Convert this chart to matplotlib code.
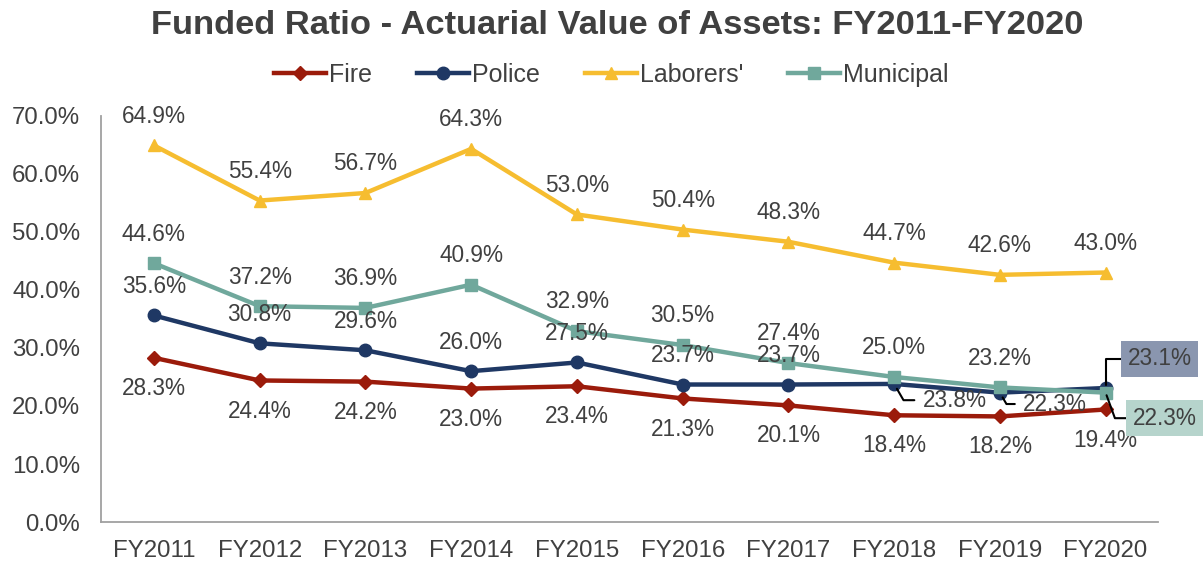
import matplotlib
matplotlib.use("Agg")
import matplotlib.pyplot as plt

years = ["FY2011", "FY2012", "FY2013", "FY2014", "FY2015",
         "FY2016", "FY2017", "FY2018", "FY2019", "FY2020"]
fire = [28.3, 24.4, 24.2, 23.0, 23.4, 21.3, 20.1, 18.4, 18.2, 19.4]
police = [35.6, 30.8, 29.6, 26.0, 27.5, 23.7, 23.7, 23.8, 22.3, 23.1]
laborers = [64.9, 55.4, 56.7, 64.3, 53.0, 50.4, 48.3, 44.7, 42.6, 43.0]
municipal = [44.6, 37.2, 36.9, 40.9, 32.9, 30.5, 27.4, 25.0, 23.2, 22.3]
yticks = [0, 10, 20, 30, 40, 50, 60, 70]


def main():
    plt.rcParams["font.family"] = ["Liberation Sans", "DejaVu Sans"]
    fig = plt.figure(figsize=(12.03, 5.65), dpi=100)
    ax = fig.add_axes([0.084, 0.076, 0.879, 0.719])
    x = list(range(len(years)))
    txt = "#404040"

    # name, values, colour, marker, size, label side
    series = [
        ("Fire", fire, "#9B1B0B", "D", 7.5, "below"),
        ("Police", police, "#1F3864", "o", 9, "above"),
        ("Laborers'", laborers, "#F6BD30", "^", 9, "above"),
        ("Municipal", municipal, "#70A89C", "s", 8.5, "above"),
    ]
    for name, vals, col, mk, ms, side in series:
        ax.plot(x, [v / 100 for v in vals], color=col, marker=mk,
                markersize=ms, linewidth=3.2, label=name, zorder=3)

    for name, vals, col, mk, ms, side in series:
        for i, v in enumerate(vals):
            if name == "Police" and i >= 7:
                continue
            if name == "Municipal" and i == 9:
                continue
            dy = 21 if side == "above" else -22
            ax.annotate(f"{v:.1f}%", (i, v / 100), xytext=(0, dy),
                        textcoords="offset points", ha="center",
                        va="center", fontsize=16.3, color=txt, zorder=5)

    # leader-line labels for Police FY2018 / FY2019
    for i, tx, ty in [(7, 7.27, 0.210), (8, 8.22, 0.2034)]:
        ax.annotate(f"{police[i]:.1f}%", (i, police[i] / 100),
                    xytext=(tx, ty), ha="left", va="center", fontsize=16.3,
                    color=txt, zorder=5,
                    arrowprops=dict(arrowstyle="-", color="black", lw=1.5,
                                    shrinkA=4, shrinkB=4,
                                    connectionstyle="angle,angleA=0,angleB=120"))

    # boxed callouts for FY2020
    ax.annotate(f"{police[9]:.1f}%", (9, police[9] / 100), xytext=(9.51, 0.281),
                ha="center", va="center", fontsize=16.3, color=txt,
                annotation_clip=False, zorder=5,
                bbox=dict(boxstyle="square,pad=0.3", fc="#8A96AF", ec="none"),
                arrowprops=dict(arrowstyle="-", color="black", lw=1.5,
                                shrinkA=0, shrinkB=2,
                                connectionstyle="angle,angleA=0,angleB=90"))
    ax.annotate(f"{municipal[9]:.1f}%", (9, municipal[9] / 100),
                xytext=(9.563, 0.179), ha="center", va="center", fontsize=16.3,
                color=txt, annotation_clip=False, zorder=5,
                bbox=dict(boxstyle="square,pad=0.3", fc="#B6D4CC", ec="none"),
                arrowprops=dict(arrowstyle="-", color="black", lw=1.5,
                                shrinkA=0, shrinkB=2,
                                connectionstyle="angle,angleA=0,angleB=-70"))

    ax.set_xlim(-0.5, 9.5)
    ax.set_ylim(0, 0.7)
    ax.set_xticks(x)
    ax.set_xticklabels(years)
    ax.set_yticks([t / 100 for t in yticks])
    ax.set_yticklabels([f"{t:.1f}%" for t in yticks])
    ax.tick_params(axis="x", pad=13)
    ax.tick_params(axis="y", pad=15)
    ax.tick_params(length=0, labelsize=17.3, colors=txt)
    for s in ["top", "right"]:
        ax.spines[s].set_visible(False)
    for s in ["left", "bottom"]:
        ax.spines[s].set_color("#A0A0A0")
        ax.spines[s].set_linewidth(1.3)

    fig.suptitle("Funded Ratio - Actuarial Value of Assets: FY2011-FY2020",
                 fontsize=24.8, fontweight="bold", color=txt, x=0.513, y=0.983)
    fig.legend(loc="center", bbox_to_anchor=(0.508, 0.868), ncol=4,
               frameon=False, fontsize=18, handlelength=2.1,
               columnspacing=1.8, handletextpad=0.1, labelcolor=txt)
    fig.savefig("out.png", dpi=100)


if __name__ == "__main__":
    main()
